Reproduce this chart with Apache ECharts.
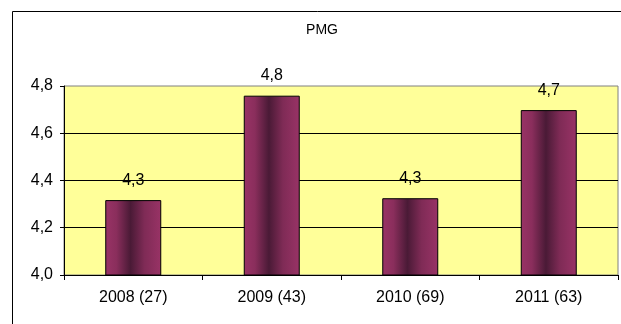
<!DOCTYPE html>
<html>
<head>
<meta charset="utf-8">
<script src="https://cdn.jsdelivr.net/npm/echarts@6/dist/echarts.min.js"></script>
<style>
html,body{margin:0;padding:0;background:#fff;}
#c{width:621px;height:324px;}
</style>
</head>
<body>
<div id="c"></div>
<script>
const titleText = 'PMG';
const categories = ['2008 (27)', '2009 (43)', '2010 (69)', '2011 (63)'];
const values = [4.317, 4.759, 4.325, 4.698];
const yMin = 4.0, yMax = 4.8, yStep = 0.2;

const fmt = v => Number(v).toFixed(1).replace('.', ',');
const font = 'Liberation Sans, Arial, sans-serif';

const chart = echarts.init(document.getElementById('c'), null, {renderer: 'canvas'});
chart.setOption({
  animation: false,
  backgroundColor: '#ffffff',
  graphic: [
    {type: 'rect', z: -10, shape: {x: 12.5, y: 11.5, width: 640, height: 340},
     style: {fill: 'none', stroke: '#000', lineWidth: 1}},
    {type: 'text', x: 322, y: 23, style: {text: titleText, fontSize: 14, fontFamily: font, fill: '#000', textAlign: 'center'}}
  ],
  grid: {left: 64, top: 86, right: 3, bottom: 49, show: true,
    backgroundColor: '#ffff99', borderColor: '#808080', borderWidth: 1},
  xAxis: {
    type: 'category', data: categories,
    axisLine: {lineStyle: {color: '#000', width: 1}},
    axisTick: {show: true, length: 5, alignWithLabel: false, lineStyle: {color: '#000'}},
    axisLabel: {color: '#000', fontSize: 16, fontFamily: font, margin: 15},
    splitLine: {show: false}
  },
  yAxis: {
    type: 'value', min: yMin, max: yMax, interval: yStep,
    axisLine: {show: true, lineStyle: {color: '#000', width: 1}},
    axisTick: {show: true, length: 4, lineStyle: {color: '#000'}},
    axisLabel: {color: '#000', fontSize: 16, fontFamily: font, margin: 11, formatter: fmt},
    splitLine: {show: true, showMinLine: false, showMaxLine: false, lineStyle: {color: '#000', width: 1}}
  },
  series: [{
    type: 'bar', data: values, barWidth: 56,
    itemStyle: {
      borderColor: '#000', borderWidth: 1,
      color: new echarts.graphic.LinearGradient(0, 0, 1, 0, [
        {offset: 0, color: '#993366'},
        {offset: 0.2, color: '#8a2e5c'},
        {offset: 0.45, color: '#4a1a36'},
        {offset: 0.7, color: '#7f2b56'},
        {offset: 1, color: '#993366'}
      ])
    },
    label: {show: true, position: 'top', distance: 12, color: '#000', fontSize: 16, fontFamily: font, formatter: p => fmt(p.value)}
  }]
});
</script>
</body>
</html>
